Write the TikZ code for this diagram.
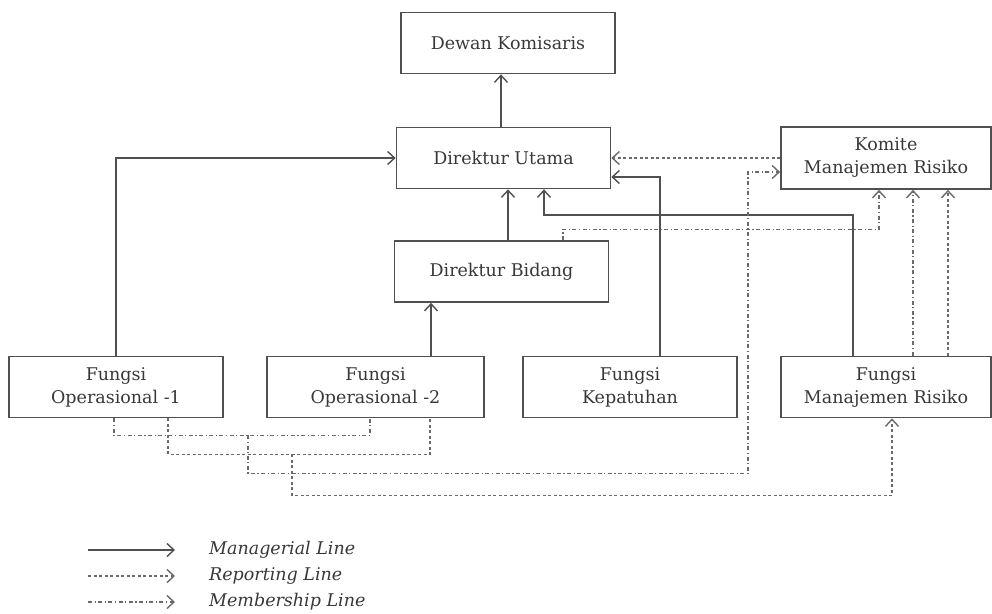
\documentclass[tikz,border=0pt]{standalone}
\usepackage{fontspec}
\setmainfont{DejaVu Serif}
\usetikzlibrary{arrows.meta,calc}
\definecolor{boxline}{HTML}{505050}
\definecolor{txt}{HTML}{383838}
\definecolor{dline}{HTML}{6A6A6A}
\begin{document}
\begin{tikzpicture}[x=1pt,y=-1pt,
  font=\fontsize{17.5}{23}\selectfont,
  tip/.style={-{Straight Barb[length=7pt,width=13pt,line width=1.4pt]}},
  orgbox/.style={draw=boxline,line width=1.7pt,text=txt,minimum width=214pt,minimum height=61pt,inner sep=0pt,align=center},
  mgr/.style={draw=boxline,line width=1.7pt,tip},
  rep/.style={draw=dline,line width=1.3pt,dash pattern=on 3pt off 2.5pt,tip},
  mem/.style={draw=dline,line width=1.3pt,dash pattern=on 4pt off 2.5pt on 1.2pt off 2.5pt,tip},
  memn/.style={draw=dline,line width=1.3pt,dash pattern=on 4pt off 2.5pt on 1.2pt off 2.5pt},
  repn/.style={draw=dline,line width=1.3pt,dash pattern=on 3pt off 2.5pt},
  legtext/.style={text=txt,anchor=west,inner sep=0pt,font=\fontsize{17.5}{20}\selectfont\itshape}
]
\useasboundingbox (0,0) rectangle (992,613);
% boxes
\node[orgbox] (dk) at (508,43) {Dewan Komisaris};
\node[orgbox] (du) at (503.5,158) {Direktur Utama};
\node[orgbox,minimum width=210pt,minimum height=62pt] (km) at (886,158) {Komite\\Manajemen Risiko};
\node[orgbox] (db) at (501.5,271.5) {Direktur Bidang};
\node[orgbox] (o1) at (116,387) {Fungsi\\Operasional -1};
\node[orgbox,minimum width=217pt] (o2) at (375.5,387) {Fungsi\\Operasional -2};
\node[orgbox] (fk) at (630,387) {Fungsi\\Kepatuhan};
\node[orgbox,minimum width=210pt] (fm) at (886,387) {Fungsi\\Manajemen Risiko};
% managerial lines
\draw[mgr] ([xshift=-2.5pt]du.north) -- ([xshift=-2.5pt]du.north |- dk.south);
\draw[mgr] (o1.north) |- (du.west);
\draw[mgr] ([xshift=6.5pt]db.north) -- ([xshift=6.5pt]db.north |- du.south);
\draw[mgr] ([xshift=55.5pt]o2.north) -- ([xshift=55.5pt]o2.north |- db.south);
\draw[mgr] ([xshift=30pt]fk.north) |- ([yshift=-19pt]du.east);
\draw[mgr] ([xshift=-33pt]fm.north) -- ++(0,-141) -| ([xshift=40.5pt]du.south);
% reporting / membership to Komite
\draw[rep] (km.west) -- (km.west -| du.east);
\draw[mem] ([xshift=61.5pt]db.north) -- ++(0,-11) -| ([xshift=-7pt]km.south);
\draw[mem] ([xshift=27pt]fm.north) -- ([xshift=27pt]km.south);
\draw[rep] ([xshift=62pt]fm.north) -- ([xshift=62pt]km.south);
% operational groups
\draw[memn] ([xshift=-2pt]o1.south) -- ++(0,17) -| ([xshift=-5.5pt]o2.south);
\coordinate (ja) at ($(o1.south)+(132,17)$);
\draw[mem] (ja) -- ++(0,38) -- ++(500,0) |- ([yshift=-14pt]km.west);
\draw[repn] ([xshift=52pt]o1.south) -- ++(0,36) -| ([xshift=54.5pt]o2.south);
\coordinate (jb) at ($(o1.south)+(176,36)$);
\draw[rep] (jb) -- ++(0,41) -| ([xshift=6pt]fm.south);
% legend
\node[legtext] (l1) at (209,550) {Managerial Line};
\node[legtext] (l2) at (209,576) {Reporting Line};
\node[legtext] (l3) at (209,602) {Membership Line};
\draw[mgr] ([xshift=-121pt]l1.west) -- ([xshift=-34pt]l1.west);
\draw[rep] ([xshift=-121pt]l2.west) -- ([xshift=-34pt]l2.west);
\draw[mem] ([xshift=-121pt]l3.west) -- ([xshift=-34pt]l3.west);
\end{tikzpicture}
\end{document}
